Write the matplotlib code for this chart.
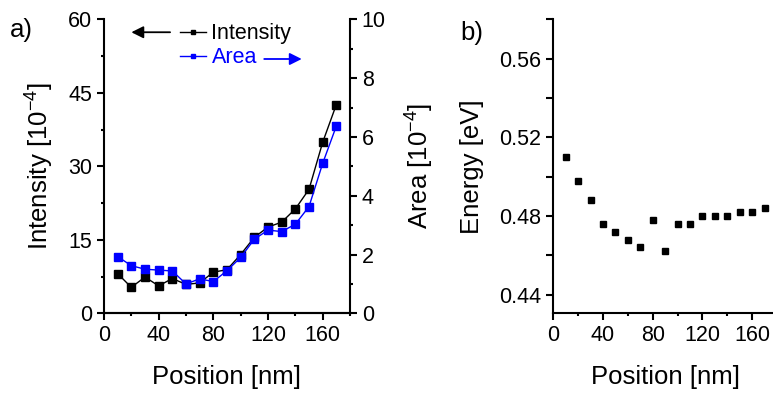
import matplotlib
matplotlib.use("Agg")
import matplotlib.pyplot as plt
from matplotlib.ticker import MultipleLocator

plt.rcParams['font.family'] = ['Liberation Sans', 'DejaVu Sans']
plt.rcParams['mathtext.default'] = 'regular'

# datos
posicion = [10, 20, 30, 40, 50, 60, 70, 80, 90, 100, 110, 120, 130, 140, 150, 160, 170]
intensidad = [8.1, 5.3, 7.4, 5.6, 7.1, 5.9, 6.2, 8.4, 8.9, 12.0, 15.5, 17.6, 18.6, 21.3, 25.3, 34.9, 42.6]
area = [1.93, 1.62, 1.50, 1.47, 1.44, 1.00, 1.17, 1.08, 1.45, 1.90, 2.52, 2.83, 2.78, 3.03, 3.63, 5.10, 6.37]
energia = [0.510, 0.498, 0.488, 0.476, 0.472, 0.468, 0.464, 0.478, 0.462,
           0.476, 0.476, 0.480, 0.480, 0.480, 0.482, 0.482, 0.484]

azul = "#0000ff"
fs_tick = 15.5
fs_label = 18.5


def estilo_ejes(ax, lados):
    for s in ["left", "right", "top", "bottom"]:
        ax.spines[s].set_visible(s in lados)
        ax.spines[s].set_linewidth(1.5)
    ax.tick_params(which="major", direction="out", length=5, width=1.5, labelsize=fs_tick)
    ax.tick_params(which="minor", direction="out", length=2.5, width=1.5)


fig = plt.figure(figsize=(7.73, 3.94), dpi=100)

# panel a)
ax1 = fig.add_axes([0.1345, 0.2048, 0.3183, 0.7462])
ax2 = ax1.twinx()

l1, = ax1.plot(posicion, intensidad, "-s", color="black", lw=1, ms=5.5)
l2, = ax2.plot(posicion, area, "-s", color=azul, lw=1, ms=5.5)

ax1.set_xlim(0, 180)
ax1.set_ylim(0, 60)
ax2.set_ylim(0, 10)
ax1.xaxis.set_major_locator(MultipleLocator(40))
ax1.xaxis.set_minor_locator(MultipleLocator(20))
ax1.yaxis.set_major_locator(MultipleLocator(15))
ax1.yaxis.set_minor_locator(MultipleLocator(7.5))
ax2.yaxis.set_major_locator(MultipleLocator(2))
ax2.yaxis.set_minor_locator(MultipleLocator(1))
estilo_ejes(ax1, ["left", "bottom"])
estilo_ejes(ax2, ["right", "bottom"])
ax2.tick_params(axis="x", which="both", bottom=False)

ax1.set_xlabel("Position [nm]", fontsize=fs_label)
ax1.set_ylabel("Intensity [10$^{-4}$]", fontsize=fs_label)
ax2.set_ylabel("Area [10$^{-4}$]", fontsize=fs_label)
ax1.xaxis.set_label_coords(0.5, -0.175)
ax1.yaxis.set_label_coords(-0.195, 0.5)
ax2.yaxis.set_label_coords(1.22, 0.5)

leg = ax2.legend([l1, l2], ["Intensity", "Area"], loc="center left",
                 bbox_to_anchor=(0.31, 0.91), frameon=False, fontsize=15.5,
                 borderpad=0, borderaxespad=0, handlelength=1.2,
                 handletextpad=0.25, labelspacing=0.15, markerscale=0.55)
leg.get_texts()[1].set_color(azul)

ax1.annotate("", xy=(0.1, 0.956), xytext=(0.28, 0.956), xycoords="axes fraction",
             arrowprops=dict(arrowstyle="-|>", color="black", lw=1.3, mutation_scale=18))
ax1.annotate("", xy=(0.815, 0.865), xytext=(0.64, 0.865), xycoords="axes fraction",
             arrowprops=dict(arrowstyle="-|>", color=azul, lw=1.3, mutation_scale=18))

fig.text(0.028, 0.925, "a)", fontsize=fs_label, ha="center", va="center")

# panel b)
ax3 = fig.add_axes([0.7158, 0.2048, 0.2893, 0.7462])
ax3.plot(posicion, energia, "s", color="black", ms=5)
ax3.set_xlim(0, 180)
ax3.set_ylim(0.4305, 0.58)
ax3.xaxis.set_major_locator(MultipleLocator(40))
ax3.xaxis.set_minor_locator(MultipleLocator(20))
ax3.set_yticks([0.44, 0.48, 0.52, 0.56])
ax3.set_yticks([0.46, 0.50, 0.54, 0.58], minor=True)
ax3.set_yticklabels(["0.44", "0.48", "0.52", "0.56"])
estilo_ejes(ax3, ["left", "bottom"])
ax3.tick_params(axis="y", which="minor", length=5)
ax3.set_xlabel("Position [nm]", fontsize=fs_label)
ax3.set_ylabel("Energy [eV]", fontsize=fs_label)
ax3.xaxis.set_label_coords(0.5, -0.175)
ax3.yaxis.set_label_coords(-0.31, 0.5)

fig.text(0.611, 0.915, "b)", fontsize=fs_label, ha="center", va="center")

fig.savefig("out.png", dpi=100)
